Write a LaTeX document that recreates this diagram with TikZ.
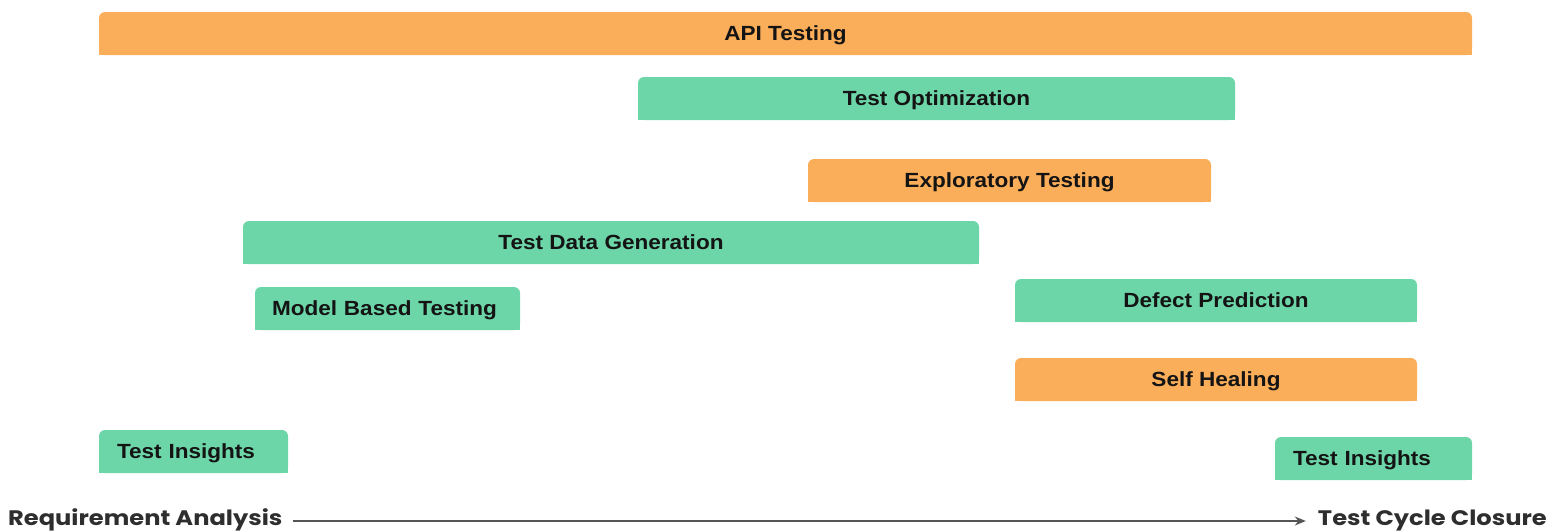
\documentclass[tikz,border=0pt]{standalone}
\usepackage{fontspec}
\usetikzlibrary{arrows.meta}
\setmainfont{Liberation Sans}
\newfontfamily\barfont[FakeStretch=1.1]{Liberation Sans}
\newfontfamily\axisfont[FakeStretch=1.15]{Poppins}
\definecolor{barorange}{HTML}{FBAE5A}
\definecolor{bargreen}{HTML}{6DD6A8}
\definecolor{axisgray}{HTML}{2E2E2E}
\definecolor{linegray}{HTML}{555555}
\begin{document}
\begin{tikzpicture}[x=1pt,y=-1pt,
  bar/.style={minimum height=43pt, inner sep=0pt, text height=14.5pt, text depth=0pt,
    font=\barfont\fontsize{20.5}{24}\selectfont\bfseries, text=black!92,
    path picture={
      \fill[#1, rounded corners=6pt] (path picture bounding box.south west) rectangle (path picture bounding box.north east);
      \fill[#1] (path picture bounding box.south west) rectangle (path picture bounding box.east);
    }},
  leftbar/.style={bar=#1, align=left},
  axislabel/.style={font=\axisfont\fontsize{21}{24}\selectfont\bfseries, text=axisgray, inner sep=0pt},
  axisline/.style={draw=linegray, line width=1.3pt, -{Stealth[length=11pt,width=9pt]}}
]
\useasboundingbox (0,0) rectangle (1560,531);

\node[bar=barorange, minimum width=1373pt] (api) at (785.5,33.5) {API Testing};
\node[bar=bargreen, minimum width=597pt] (opt) at (936.5,98.5) {Test Optimization};
\node[bar=barorange, minimum width=403pt] (expl) at (1009.5,180.5) {Exploratory Testing};
\node[bar=bargreen, minimum width=736pt] (tdg) at (611,242.5) {Test Data Generation};
\node[leftbar=bargreen, text width=231pt, inner xsep=17pt] (mbt) at (387.5,308.5) {Model Based Testing};
\node[bar=bargreen, minimum width=402pt] (defect) at (1216,300.5) {Defect Prediction};
\node[bar=barorange, minimum width=402pt] (heal) at (1216,379.5) {Self Healing};
\node[leftbar=bargreen, text width=153pt, inner xsep=18pt] (insl) at (193.5,451.5) {Test Insights};
\node[leftbar=bargreen, text width=161pt, inner xsep=18pt] (insr) at (1373.5,458.5) {Test Insights};

\node[axislabel, anchor=base west] (req) at (8,525) {Requirement Analysis};
\node[axislabel, anchor=base east] (close) at (1547,525) {Test Cycle Closure};
\draw[axisline] ([shift={(10pt,4pt)}]req.base east) -- ([shift={(-12pt,4pt)}]close.base west);
\end{tikzpicture}
\end{document}
